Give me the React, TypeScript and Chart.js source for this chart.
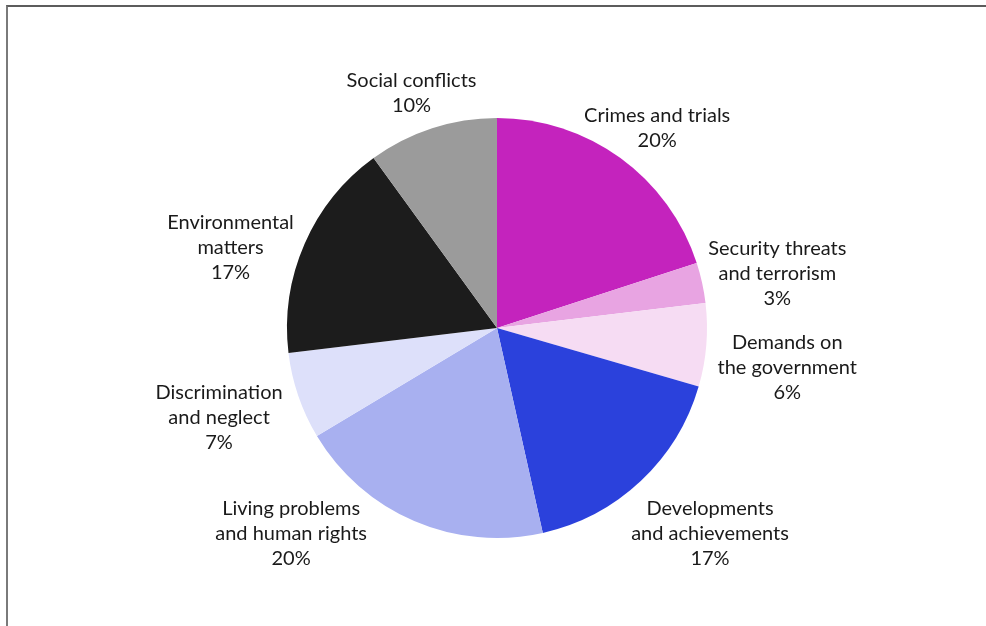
import React, { useEffect, useRef } from "react";
import { Chart, registerables } from "chart.js";

Chart.register(...registerables);

const categories = [
  ["Crimes and trials"],
  ["Security threats", "and terrorism"],
  ["Demands on", "the government"],
  ["Developments", "and achievements"],
  ["Living problems", "and human rights"],
  ["Discrimination", "and neglect"],
  ["Environmental", "matters"],
  ["Social conflicts"],
];
const values = [20.0, 3.1, 6.4, 17.0, 19.9, 6.7, 16.9, 10.0];
const colors = ["#c423bd", "#e8a4e2", "#f6dcf3", "#2b41dc", "#a8b0f0", "#dde0fa", "#1c1c1c", "#9b9b9b"];
// label placement relative to slice: angle shift (deg) and distance factor of radius
const labelAngleShift = [2.7, 1.4, 3.1, -2.8, 21.8, 1.1, -6.7, -2];
const labelDistance = [1.22, 1.36, 1.395, 1.41, 1.386, 1.39, 1.326, 1.19];

const FONT = "Lato, 'Noto Sans', sans-serif";

const labelPlugin = {
  id: "outerLabels",
  afterDatasetsDraw(chart: any) {
    const ctx = chart.ctx;
    const meta = chart.getDatasetMeta(0);
    const total = values.reduce((a, b) => a + b, 0);
    ctx.save();
    ctx.font = `20px ${FONT}`;
    ctx.fillStyle = "#1a1a1a";
    ctx.textAlign = "center";
    ctx.textBaseline = "middle";
    const lh = 25;
    meta.data.forEach((arc: any, i: number) => {
      const { x, y, startAngle, endAngle, outerRadius } = arc.getProps(
        ["x", "y", "startAngle", "endAngle", "outerRadius"],
        true
      );
      const mid = (startAngle + endAngle) / 2 + (labelAngleShift[i] * Math.PI) / 180;
      const d = outerRadius * labelDistance[i];
      const cx = x + Math.cos(mid) * d;
      const cy = y + Math.sin(mid) * d;
      const pct = Math.round((values[i] / total) * 100) + "%";
      const lines = [...categories[i], pct];
      const top = cy - ((lines.length - 1) * lh) / 2;
      lines.forEach((t, k) => ctx.fillText(t, cx, top + k * lh));
    });
    ctx.restore();
  },
};

export default function App() {
  const ref = useRef<HTMLCanvasElement>(null);
  useEffect(() => {
    if (!ref.current) return;
    const chart = new Chart(ref.current, {
      type: "pie",
      data: {
        labels: categories.map((c) => c.join(" ")),
        datasets: [
          {
            data: values,
            backgroundColor: colors,
            borderWidth: 0,
          },
        ],
      },
      options: {
        animation: false,
        responsive: false,
        layout: { padding: { left: 287, right: 279, top: 118, bottom: 88 } },
        plugins: {
          legend: { display: false },
          tooltip: { enabled: false },
        },
      },
      plugins: [labelPlugin],
    });
    return () => chart.destroy();
  }, []);
  return (
    <div style={{ position: "fixed", left: 0, top: 0, width: 986, height: 626, background: "#fff", overflow: "hidden" }}>
      <div
        style={{
          position: "absolute",
          left: 6,
          top: 5,
          width: 1200,
          height: 900,
          borderTop: "2px solid #5c5c5c",
          borderLeft: "2px solid #7a7a7a",
        }}
      />
      <canvas ref={ref} width={986} height={626} style={{ position: "absolute", left: 0, top: 0 }} />
    </div>
  );
}
